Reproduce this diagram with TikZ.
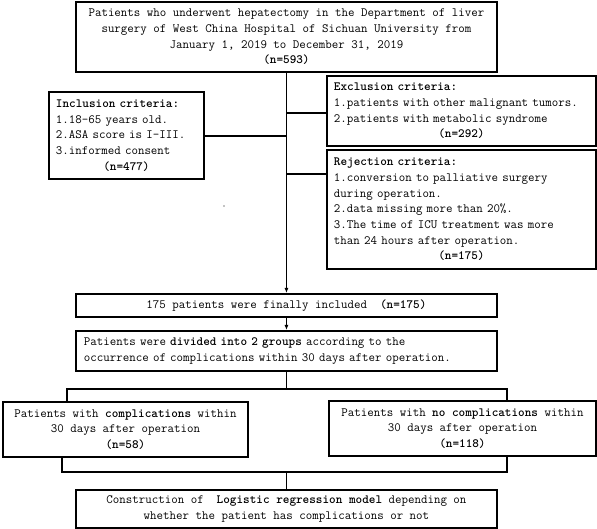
\documentclass[tikz,border=0pt]{standalone}
\usepackage{fontspec}
\usetikzlibrary{arrows.meta}
\begin{document}
\begin{tikzpicture}[x=1pt,y=-1pt,
  every node/.style={font=\ttfamily\fontsize{12.6}{15.7}\selectfont, inner sep=0pt},
  box/.style={draw, line width=1.9pt, anchor=north west},
  link/.style={line width=1.7pt},
  arr/.style={link, -{Latex[length=5pt,width=4pt]}}]
\useasboundingbox (0,0) rectangle (597,529);

\node[box, minimum width=421pt, minimum height=70pt, align=center] (top) at (75,1)
  {Patients who underwent hepatectomy in the Department of liver\\
   surgery of West China Hospital of Sichuan University from\\
   January 1, 2019 to December 31, 2019\\
   \textbf{(n=593)}};

\node[box, minimum width=155pt, minimum height=87pt, text width=141pt, align=left] (inc) at (48,91)
  {\textbf{Inclusion criteria:}\\
   1.18-65 years old.\\
   2.ASA score is I-III.\\
   3.informed consent\par
   {\centering\textbf{(n=477)}\par}};

\node[box, minimum width=269pt, minimum height=70pt, text width=255pt, align=left] (exc) at (326,75)
  {\textbf{Exclusion criteria:}\\
   1.patients with other malignant tumors.\\
   2.patients with metabolic syndrome\par
   {\centering\textbf{(n=292)}\par}};

\node[box, minimum width=269pt, minimum height=119pt, text width=255pt, align=left] (rej) at (326,149)
  {\textbf{Rejection criteria:}\\
   1.conversion to palliative surgery\\
   during operation.\\
   2.data missing more than 20\%.\\
   3.The time of ICU treatment was more\\
   than 24 hours after operation.\par
   {\centering\textbf{(n=175)}\par}};

\node[box, minimum width=421pt, minimum height=23pt] (fin) at (75,293)
  {175 patients were finally included\ \ \textbf{(n=175)}};

\node[box, minimum width=421pt, minimum height=40pt, text width=405pt, align=left] (div) at (75,330)
  {Patients were \textbf{divided into 2 groups} according to the\\
   occurrence of complications within 30 days after operation.};

\node[box, minimum width=245pt, minimum height=55pt, align=center] (com) at (2,401)
  {Patients with \textbf{complications} within\\
   30 days after operation\\
   \textbf{(n=58)}};

\node[box, minimum width=267pt, minimum height=55pt, align=center] (nocom) at (328,400)
  {Patients with \textbf{no complications} within\\
   30 days after operation\\
   \textbf{(n=118)}};

\node[box, minimum width=421pt, minimum height=38pt, align=center] (con) at (75,489)
  {Construction of\ \ \textbf{Logistic regression model} depending on\\
   whether the patient has complications or not};

% connectors
\draw[arr] (top.south) -- (fin.north);
\draw[link] ([yshift=-45pt]inc.north east) -- ([yshift=-45pt]inc.north east -| top.south);
\draw[link] ([yshift=-38pt]exc.north west) -- ([yshift=-38pt]exc.north west -| top.south);
\draw[link] ([yshift=-25pt]rej.north west) -- ([yshift=-25pt]rej.north west -| top.south);
\draw[arr] (fin.south) -- (div.north);

\path (div.south) ++(0,17) coordinate (bj);
\draw[link] (div.south) -- (bj);
\draw[link] ([xshift=65pt]com.north west) |- (bj) -| ([xshift=179pt]nocom.north west);

\path (con.north) ++(0,-17) coordinate (bk);
\draw[link] ([xshift=60pt]com.south west) |- (bk) -| ([xshift=179pt]nocom.south west);
\draw[link] (bk) -- (con.north);

\fill (224,206) circle (0.7pt);
\end{tikzpicture}
\end{document}
